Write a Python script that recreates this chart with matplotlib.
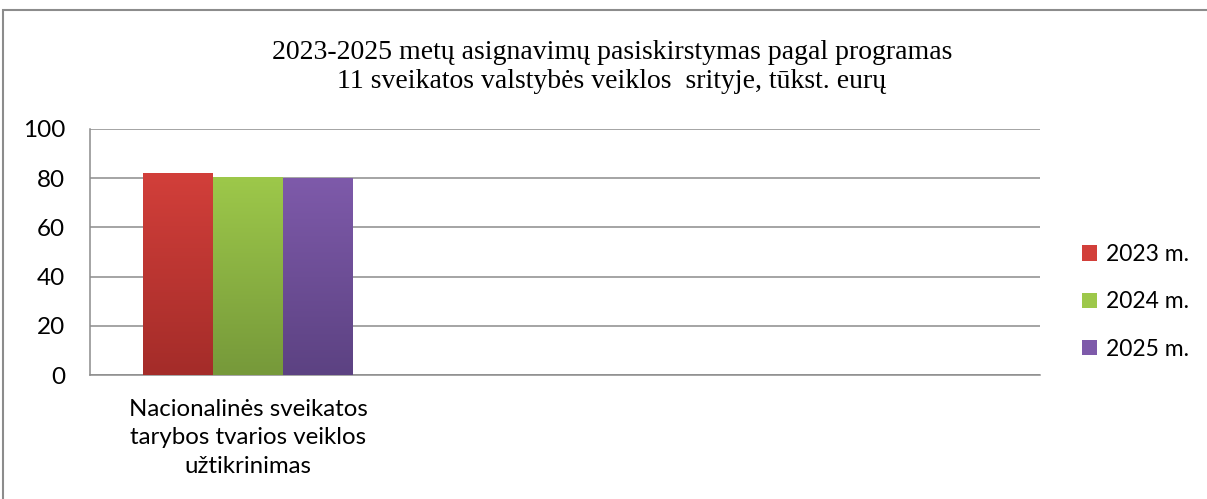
import numpy as np
import matplotlib.pyplot as plt
from matplotlib.patches import Rectangle
from matplotlib.colors import LinearSegmentedColormap

# duomenys
categories = ["Nacionalinės sveikatos\ntarybos tvarios veiklos\nužtikrinimas", "", ""]
years = ["2023 m.", "2024 m.", "2025 m."]
values_2023 = [82.1, np.nan, np.nan]
values_2024 = [80.3, np.nan, np.nan]
values_2025 = [80.0, np.nan, np.nan]
series = [values_2023, values_2024, values_2025]

# spalvos (viršus, apačia)
colors = [("#d23f3a", "#a42c29"), ("#9dc84a", "#76993a"), ("#7e5aaa", "#5c4282")]

fig = plt.figure(figsize=(12.07, 4.99), dpi=100)
W, H = 1207, 499
ax = fig.add_axes([90 / W, 1 - 375 / H, 950 / W, 246 / H])

x = np.arange(len(categories))
width = 0.221
offsets = [-width, 0, width]

for vals, off, (top, bot), lab in zip(series, offsets, colors, years):
    bars = ax.bar(x + off, vals, width, color=top, label=lab, zorder=3)
    cmap = LinearSegmentedColormap.from_list("g", [bot, top])
    grad = np.linspace(0, 1, 256).reshape(-1, 1)
    for b in bars:
        h = b.get_height()
        if np.isnan(h):
            continue
        x0 = b.get_x()
        im = ax.imshow(grad, cmap=cmap, aspect="auto", origin="lower",
                       extent=[x0, x0 + b.get_width(), 0, h], zorder=4)
        im.set_clip_path(b)

ax.set_xlim(-0.5, len(categories) - 0.5)
ax.set_ylim(0, 100)
ax.set_yticks([0, 20, 40, 60, 80, 100])
ax.set_xticks(x)
ax.set_xticklabels(categories, fontsize=17.3, family="Lato", linespacing=1.45)
ax.tick_params(axis="y", length=0, pad=18, labelsize=17.5)
ax.tick_params(axis="x", length=0, pad=17)
for t in ax.get_yticklabels():
    t.set_family("Lato")
ax.yaxis.grid(True, color="#8c8c8c", linewidth=1.1, zorder=0)
ax.set_axisbelow(True)
for s in ["top", "right"]:
    ax.spines[s].set_visible(False)
for s in ["left", "bottom"]:
    ax.spines[s].set_color("#8c8c8c")
    ax.spines[s].set_linewidth(1.1)

fig.text(612 / W, 1 - 67 / H,
         "2023-2025 metų asignavimų pasiskirstymas pagal programas\n11 sveikatos valstybės veiklos  srityje, tūkst. eurų",
         ha="center", va="center", fontsize=20, family="Liberation Serif", linespacing=1.2)

leg = fig.legend(loc="center left", bbox_to_anchor=(1061 / W, 1 - 302 / H),
                 frameon=False, prop={"family": "Lato", "size": 16.5},
                 handlelength=0.65, handleheight=0.65, handletextpad=0.4,
                 labelspacing=1.15)

# rėmelis
fig.patches.append(Rectangle((3 / W, -0.1), 1.2, 1 - 10 / H + 0.1,
                             transform=fig.transFigure, fill=False,
                             edgecolor="#8c8c8c", linewidth=1.5))

fig.savefig("out.png", dpi=100)
